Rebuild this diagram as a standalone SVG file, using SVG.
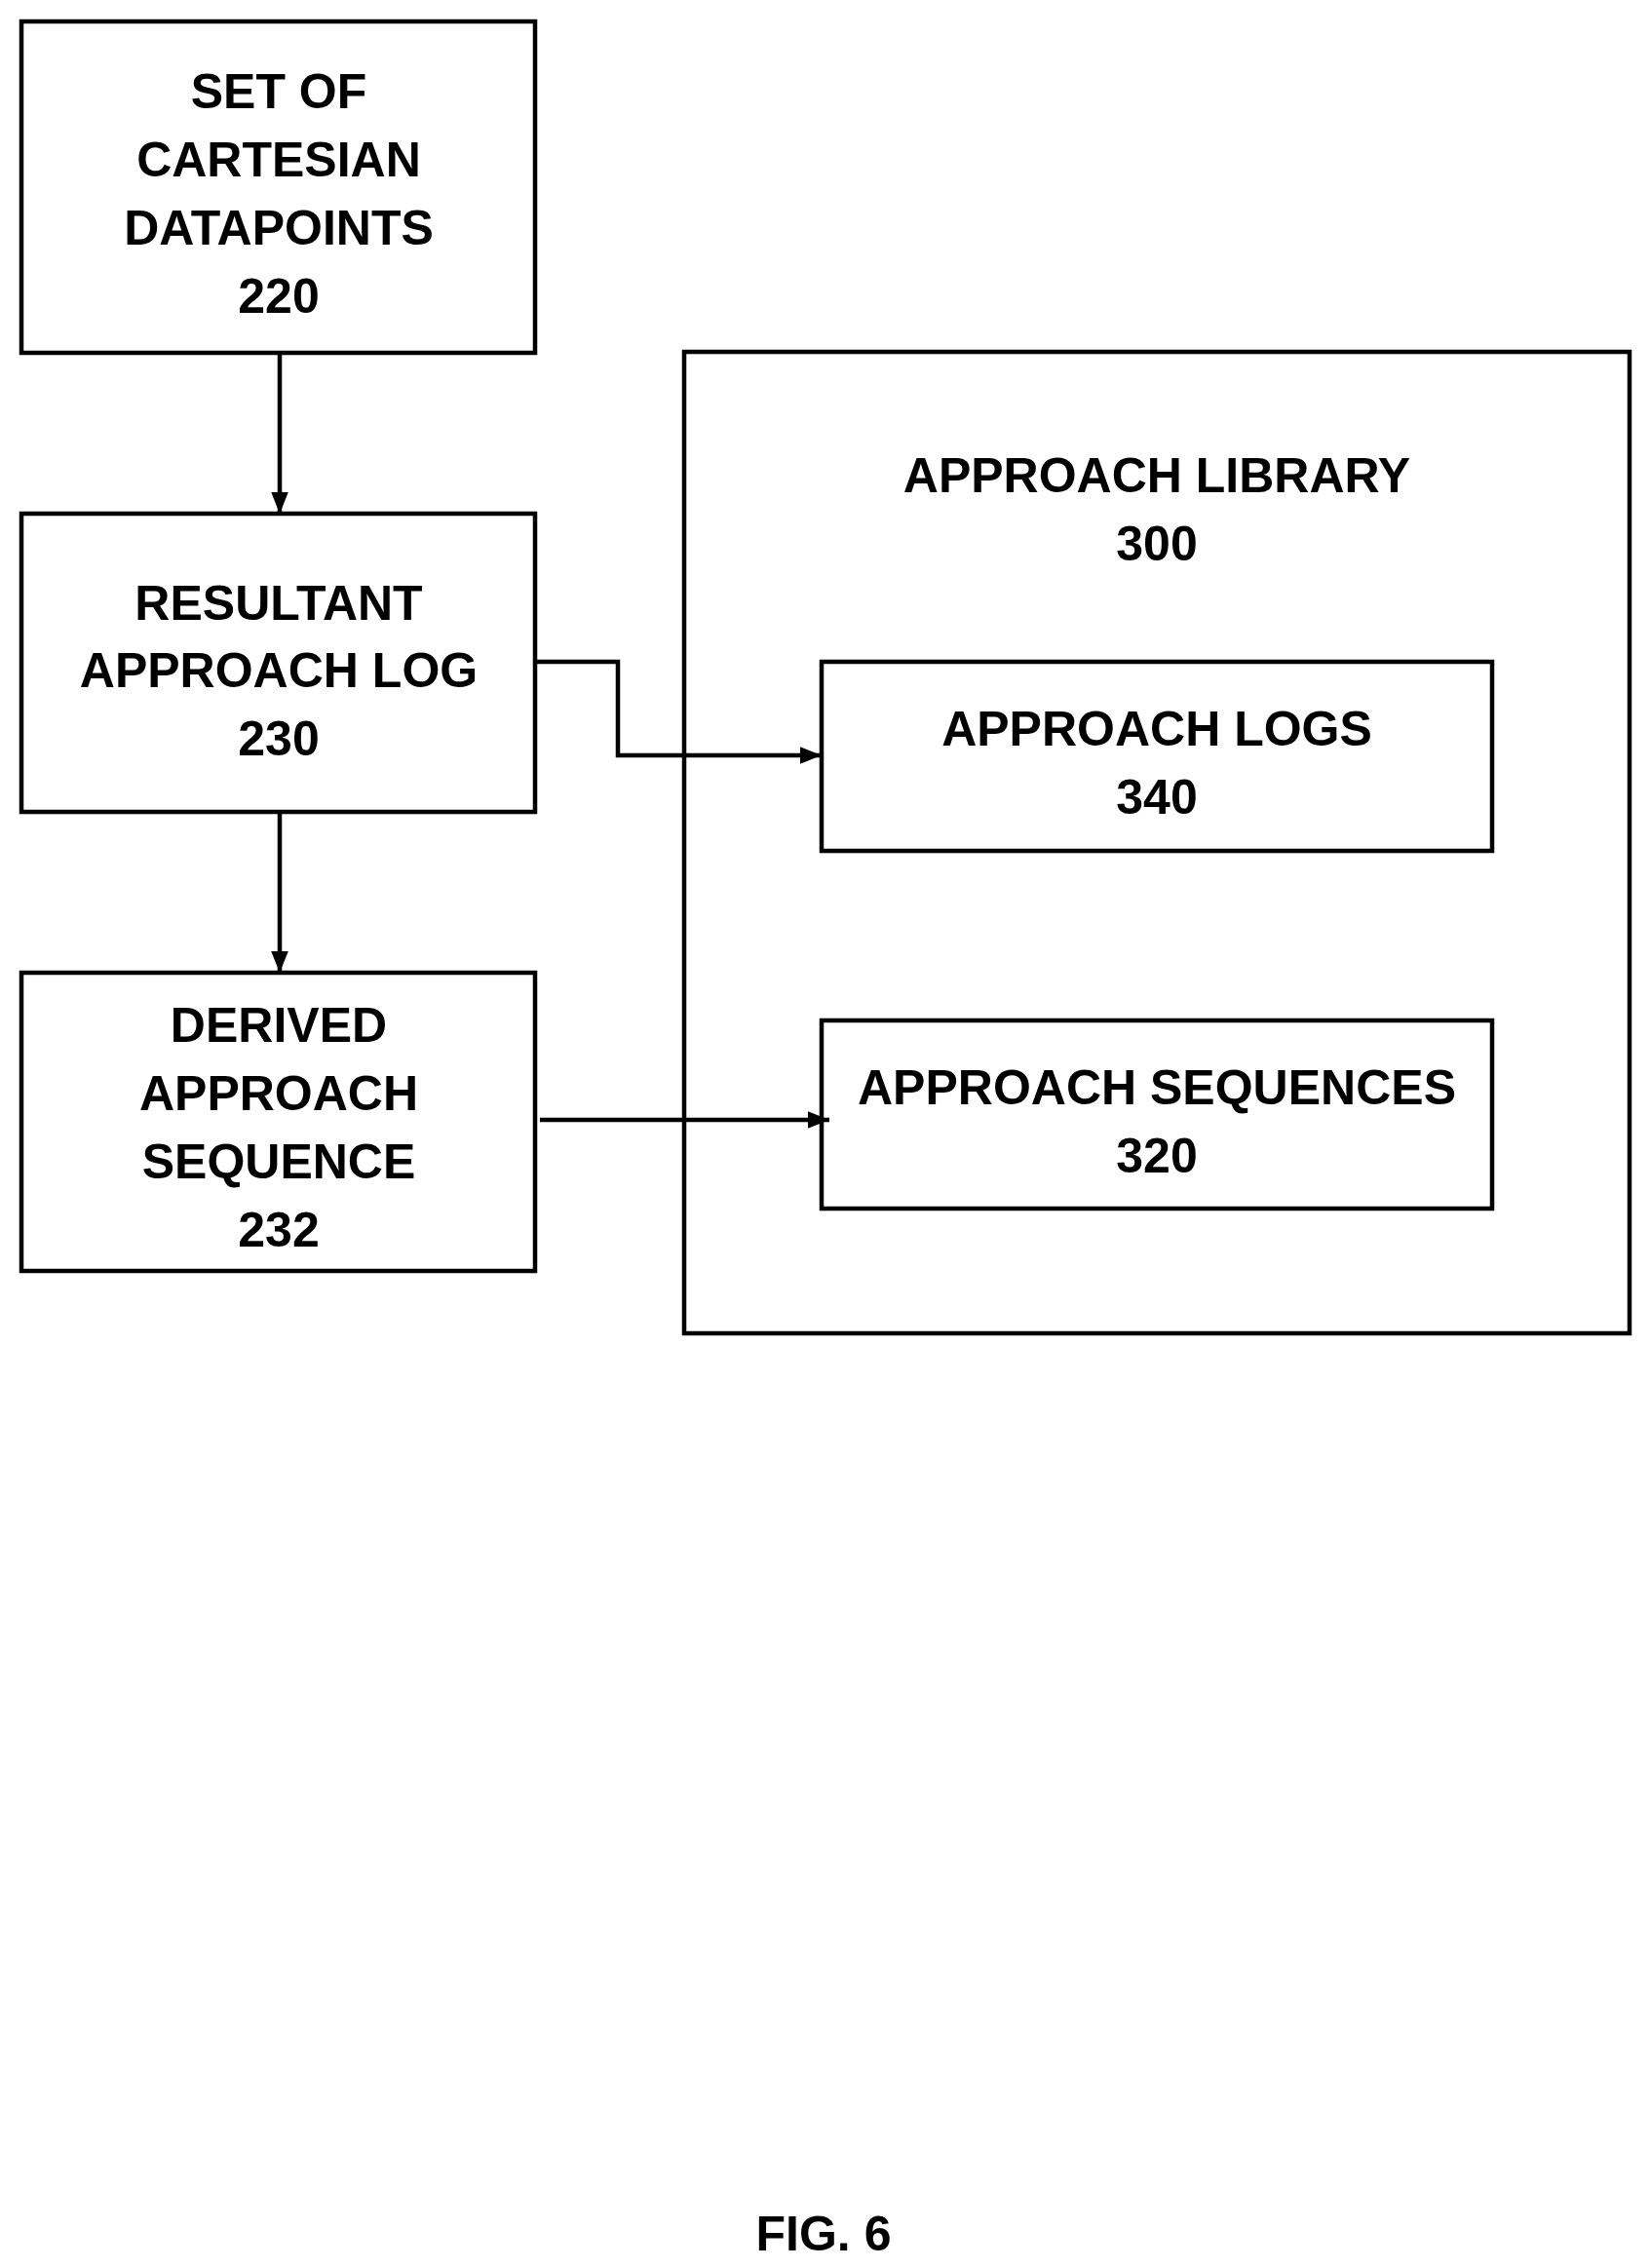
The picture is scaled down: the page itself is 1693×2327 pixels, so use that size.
<svg xmlns="http://www.w3.org/2000/svg" width="1693" height="2327" viewBox="0 0 1693 2327">
<style>
rect{fill:none;stroke:#000;stroke-width:4.5}
text{font-family:"Liberation Sans",Arial,sans-serif;font-weight:bold;font-size:50px;text-anchor:middle;fill:#000}
.c{fill:none;stroke:#000;stroke-width:4.5}
</style>
<defs><marker id="a" viewBox="0 0 10 10" refX="10" refY="5" markerWidth="5" markerHeight="5" orient="auto" markerUnits="strokeWidth"><path d="M0,1L10,5L0,9z" fill="#000"/></marker></defs>
<rect x="0" y="0" width="1693" height="2327" style="fill:#fff;stroke:none"/>
<g id="n220"><rect x="22" y="22" width="527" height="340"/><text x="286" y="111">SET OF</text><text x="286" y="181">CARTESIAN</text><text x="286" y="251">DATAPOINTS</text><text x="286" y="321">220</text></g>
<g id="n230"><rect x="22" y="527" width="527" height="306"/><text x="286" y="636">RESULTANT</text><text x="286" y="705">APPROACH LOG</text><text x="286" y="775">230</text></g>
<g id="n232"><rect x="22" y="998" width="527" height="306"/><text x="286" y="1069">DERIVED</text><text x="286" y="1139">APPROACH</text><text x="286" y="1209">SEQUENCE</text><text x="286" y="1279">232</text></g>
<g id="n300"><rect x="702" y="361" width="970" height="1007"/><text x="1187" y="505">APPROACH LIBRARY</text><text x="1187" y="575">300</text></g>
<g id="n340"><rect x="843" y="679" width="688" height="194"/><text x="1187" y="765">APPROACH LOGS</text><text x="1187" y="835">340</text></g>
<g id="n320"><rect x="843" y="1047" width="688" height="193"/><text x="1187" y="1133">APPROACH SEQUENCES</text><text x="1187" y="1203">320</text></g>
<g id="connectors">
<path class="c" d="M287,362V527" marker-end="url(#a)"/>
<path class="c" d="M287,833V998" marker-end="url(#a)"/>
<path class="c" d="M549,679H634V775H843" marker-end="url(#a)"/>
<path class="c" d="M554,1149H851" marker-end="url(#a)"/>
</g>
<text x="845" y="2309">FIG. 6</text>
</svg>
